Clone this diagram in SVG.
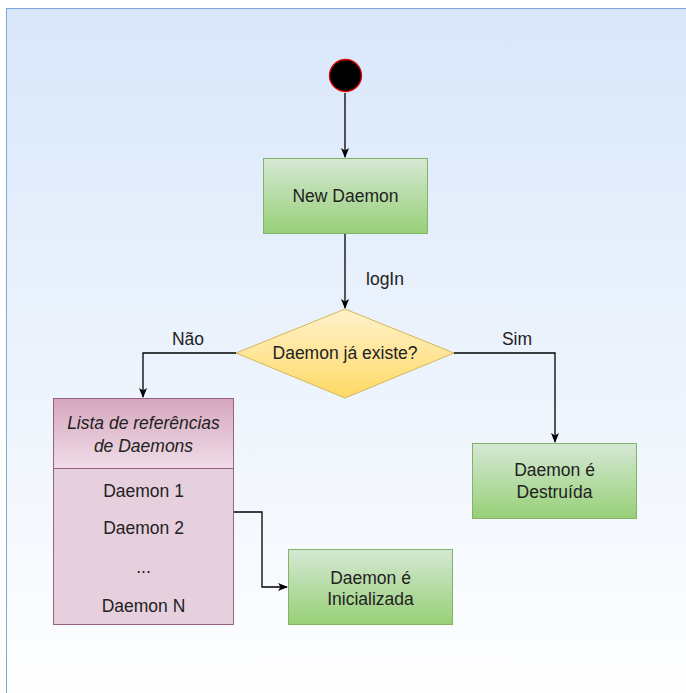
<svg xmlns="http://www.w3.org/2000/svg" width="686" height="693" viewBox="0 0 686 693">
  <defs>
    <linearGradient id="bg" x1="0" y1="0" x2="0" y2="1">
      <stop offset="0" stop-color="#d9e7fa"/>
      <stop offset="1" stop-color="#ffffff"/>
    </linearGradient>
    <linearGradient id="green" x1="0" y1="0" x2="0" y2="1">
      <stop offset="0" stop-color="#d5e8d4"/>
      <stop offset="1" stop-color="#97d077"/>
    </linearGradient>
    <linearGradient id="yellow" x1="0" y1="0" x2="0" y2="1">
      <stop offset="0" stop-color="#fff2cc"/>
      <stop offset="1" stop-color="#ffd966"/>
    </linearGradient>
    <linearGradient id="pink" x1="0" y1="0" x2="0" y2="1">
      <stop offset="0" stop-color="#d5a6bd"/>
      <stop offset="1" stop-color="#f0dde8"/>
    </linearGradient>
    <marker id="arrow" viewBox="0 0 10 10" refX="9" refY="5" markerWidth="10" markerHeight="10" markerUnits="userSpaceOnUse" orient="auto">
      <path d="M0,1 L10,5 L0,9 L2.5,5 Z" fill="#000"/>
    </marker>
    <style>
      .lbl { font-family: "Liberation Sans", Arial, sans-serif; font-size: 17.5px; fill: #222; text-anchor: middle; }
      .green { fill: url(#green); stroke: #82b366; stroke-width: 1; }
      .edge { fill: none; stroke: #000; stroke-width: 1.3; }
    </style>
  </defs>

  <!-- canvas -->
  <rect x="6.5" y="8.5" width="690" height="700" fill="url(#bg)" stroke="#7ea6e0" stroke-width="1"/>

  <!-- connectors -->
  <g id="edges">
    <path class="edge" d="M345,93 V157" marker-end="url(#arrow)"/>
    <path class="edge" d="M345,234 V308" marker-end="url(#arrow)"/>
    <path class="edge" d="M236,353 H143 V397" marker-end="url(#arrow)"/>
    <path class="edge" d="M454,353 H555 V442" marker-end="url(#arrow)"/>
    <path class="edge" d="M234,512 H262 V587 H287" marker-end="url(#arrow)"/>
    <text class="lbl" x="385" y="285">logIn</text>
    <text class="lbl" x="188" y="345">Não</text>
    <text class="lbl" x="517" y="345">Sim</text>
  </g>

  <g id="start">
    <circle cx="345.5" cy="75.5" r="16" fill="#000" stroke="#e00000" stroke-width="1.3"/>
  </g>

  <g id="new-daemon">
    <rect class="green" x="263.5" y="158.5" width="164" height="75"/>
    <text class="lbl" x="345.5" y="202">New Daemon</text>
  </g>

  <g id="decision">
    <polygon points="345,309 454,353 345,398 236,353" fill="url(#yellow)" stroke="#d6b656" stroke-width="1"/>
    <text class="lbl" x="345" y="359">Daemon já existe?</text>
  </g>

  <g id="daemon-list">
    <rect x="53.5" y="398.5" width="180" height="70" fill="url(#pink)" stroke="#996185" stroke-width="1"/>
    <rect x="53.5" y="468.5" width="180" height="156" fill="#e6d0de" stroke="#996185" stroke-width="1"/>
    <text class="lbl" x="143.5" y="429" font-style="italic">Lista de referências</text>
    <text class="lbl" x="143.5" y="452" font-style="italic">de Daemons</text>
    <text class="lbl" x="143.5" y="497">Daemon 1</text>
    <text class="lbl" x="143.5" y="534">Daemon 2</text>
    <text class="lbl" x="143.5" y="573">...</text>
    <text class="lbl" x="143.5" y="612">Daemon N</text>
  </g>

  <g id="destroyed">
    <rect class="green" x="472.5" y="443.5" width="164" height="75"/>
    <text class="lbl" x="554.5" y="476">Daemon é</text>
    <text class="lbl" x="554.5" y="498">Destruída</text>
  </g>

  <g id="initialized">
    <rect class="green" x="288.5" y="549.5" width="164" height="75"/>
    <text class="lbl" x="370.5" y="584">Daemon é</text>
    <text class="lbl" x="370.5" y="605">Inicializada</text>
  </g>
</svg>
